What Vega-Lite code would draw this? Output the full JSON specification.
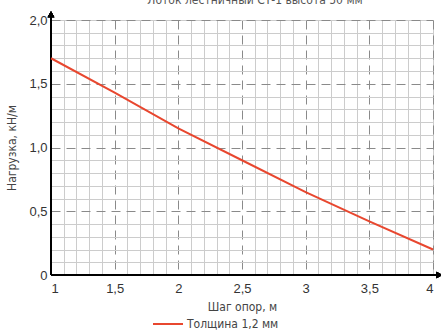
{
  "$schema": "https://vega.github.io/schema/vega-lite/v6.json",
  "autosize": {"type": "none"},
  "padding": {"left": 51, "top": 20, "right": 8, "bottom": 61},
  "width": 382,
  "height": 255,
  "background": "white",
  "title": {
    "text": "Лоток лестничный СТ-1 высота 50 мм",
    "font": "DejaVu Sans Condensed, sans-serif",
    "fontSize": 12,
    "fontWeight": "normal",
    "color": "#555555",
    "anchor": "middle",
    "dx": 13,
    "offset": 4
  },
  "config": {
    "view": {"stroke": null},
    "axis": {"labelFont": "Liberation Sans", "titleFont": "DejaVu Sans Condensed, sans-serif"}
  },
  "data": {
    "values": [
      {"spacing": 1.0, "load": 1.7, "series": "Толщина 1,2 мм"},
      {"spacing": 1.5, "load": 1.43, "series": "Толщина 1,2 мм"},
      {"spacing": 2.0, "load": 1.15, "series": "Толщина 1,2 мм"},
      {"spacing": 2.5, "load": 0.9, "series": "Толщина 1,2 мм"},
      {"spacing": 3.0, "load": 0.65, "series": "Толщина 1,2 мм"},
      {"spacing": 3.5, "load": 0.42, "series": "Толщина 1,2 мм"},
      {"spacing": 4.0, "load": 0.2, "series": "Толщина 1,2 мм"}
    ]
  },
  "resolve": {"axis": {"x": "independent", "y": "independent"}},
  "layer": [
    {
      "mark": {"type": "line", "opacity": 0},
      "encoding": {
        "x": {
          "field": "spacing", "type": "quantitative",
          "scale": {"domain": [1, 4], "nice": false, "zero": false},
          "axis": {
            "orient": "bottom",
            "values": [1.1, 1.2, 1.3, 1.4, 1.6, 1.7, 1.8, 1.9, 2.1, 2.2, 2.3, 2.4, 2.6, 2.7, 2.8, 2.9, 3.1, 3.2, 3.3, 3.4, 3.6, 3.7, 3.8, 3.9, 4.0],
            "grid": true, "gridColor": "#cccccc", "gridWidth": 1, "gridOpacity": 1,
            "labels": false, "ticks": false, "domain": false, "title": null, "zindex": 0
          }
        },
        "y": {
          "field": "load", "type": "quantitative",
          "scale": {"domain": [0, 2], "nice": false},
          "axis": {
            "orient": "left",
            "values": [0.1, 0.2, 0.3, 0.4, 0.6, 0.7, 0.8, 0.9, 1.1, 1.2, 1.3, 1.4, 1.6, 1.7, 1.8, 1.9, 2.0],
            "grid": true, "gridColor": "#cccccc", "gridWidth": 1, "gridOpacity": 1,
            "labels": false, "ticks": false, "domain": false, "title": null, "zindex": 0
          }
        }
      }
    },
    {
      "mark": {"type": "line", "opacity": 0},
      "encoding": {
        "x": {
          "field": "spacing", "type": "quantitative",
          "axis": {
            "orient": "bottom",
            "values": [1, 1.5, 2, 2.5, 3, 3.5, 4],
            "grid": true, "gridColor": "#8a8a8a", "gridDash": [9, 6], "gridWidth": 1,
            "labelExpr": "replace(format(datum.value, ''), '.', ',')",
            "labelFontSize": 13, "labelColor": "#333333", "labelPadding": 7,
            "ticks": false, "domain": false,
            "title": "Шаг опор, м", "titleFontSize": 12, "titleFontWeight": "normal",
            "titleColor": "#444444", "titlePadding": 6, "zindex": 0
          }
        },
        "y": {
          "field": "load", "type": "quantitative",
          "axis": {
            "orient": "left",
            "values": [0, 0.5, 1, 1.5, 2],
            "grid": true, "gridColor": "#8a8a8a", "gridDash": [9, 6], "gridWidth": 1,
            "labelExpr": "datum.value == 0 ? '0' : replace(format(datum.value, '.1f'), '.', ',')",
            "labelFontSize": 13, "labelColor": "#333333", "labelPadding": 4,
            "ticks": false, "domain": false,
            "title": "Нагрузка, кН/м", "titleFontSize": 12, "titleFontWeight": "normal",
            "titleColor": "#444444", "titlePadding": 10, "zindex": 0
          }
        }
      }
    },
    {
      "mark": {"type": "rule", "color": "black", "strokeWidth": 2, "clip": false},
      "encoding": {
        "x": {"datum": 1, "type": "quantitative", "axis": null},
        "x2": {"datum": 4.04},
        "y": {"datum": 0, "type": "quantitative", "axis": null}
      }
    },
    {
      "mark": {"type": "rule", "color": "black", "strokeWidth": 2, "clip": false},
      "encoding": {
        "x": {"datum": 1, "type": "quantitative", "axis": null},
        "y": {"datum": 0, "type": "quantitative", "axis": null},
        "y2": {"datum": 2.04}
      }
    },
    {
      "mark": {"type": "point", "shape": "triangle-right", "filled": true, "color": "black", "opacity": 1, "size": 45, "clip": false},
      "encoding": {
        "x": {"datum": 4.05, "type": "quantitative", "axis": null},
        "y": {"datum": 0, "type": "quantitative", "axis": null}
      }
    },
    {
      "mark": {"type": "point", "shape": "triangle-up", "filled": true, "color": "black", "opacity": 1, "size": 45, "clip": false},
      "encoding": {
        "x": {"datum": 1, "type": "quantitative", "axis": null},
        "y": {"datum": 2.045, "type": "quantitative", "axis": null}
      }
    },
    {
      "mark": {"type": "line", "strokeWidth": 2, "clip": false},
      "encoding": {
        "x": {"field": "spacing", "type": "quantitative", "axis": null},
        "y": {"field": "load", "type": "quantitative", "axis": null},
        "color": {
          "field": "series", "type": "nominal",
          "scale": {"range": ["#e8472f"]},
          "legend": {
            "orient": "none", "legendX": 101, "legendY": 288,
            "title": null, "symbolType": "stroke", "symbolSize": 900, "symbolStrokeWidth": 2,
            "labelFont": "DejaVu Sans Condensed, sans-serif",
            "labelFontSize": 12, "labelColor": "#444444", "labelOffset": 3
          }
        }
      }
    }
  ]
}
